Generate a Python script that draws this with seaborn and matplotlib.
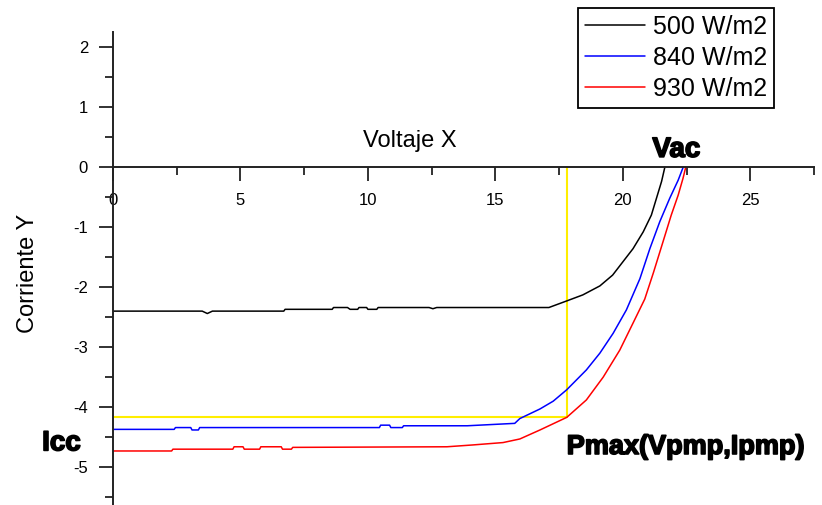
import numpy as np
import pandas as pd
import matplotlib.pyplot as plt
import matplotlib.patheffects as pe
import seaborn as sns

# Curvas I-V para tres niveles de irradiancia
irradiance_labels = ['500 W/m2', '840 W/m2', '930 W/m2']
line_colors = ['#000000', '#0000ff', '#ff0000']

volt_500 = [0, 3.5, 3.7, 3.9, 6.7, 6.75, 8.6, 8.65, 9.2, 9.3, 9.6, 9.65, 9.95, 10.0,
            10.35, 10.4, 12.4, 12.55, 12.7, 17.1, 17.8, 18.43, 19.1, 19.6, 20.0,
            20.4, 20.8, 21.12, 21.32, 21.52, 21.65]
curr_500 = [-2.40, -2.40, -2.44, -2.40, -2.40, -2.37, -2.37, -2.34, -2.34, -2.37, -2.37,
            -2.34, -2.34, -2.37, -2.37, -2.34, -2.34, -2.36, -2.34, -2.34, -2.23, -2.13,
            -1.98, -1.80, -1.58, -1.36, -1.08, -0.80, -0.52, -0.24, 0.0]

volt_840 = [0, 2.4, 2.45, 3.05, 3.1, 3.35, 3.4, 10.45, 10.5, 10.85, 10.9, 11.35, 11.4,
            13.9, 15.76, 15.96, 16.75, 17.27, 17.8, 18.57, 19.1, 19.62, 20.14, 20.67,
            21.06, 21.45, 21.84, 22.17, 22.37]
curr_840 = [-4.37, -4.37, -4.34, -4.34, -4.38, -4.38, -4.34, -4.34, -4.30, -4.30, -4.34,
            -4.34, -4.31, -4.31, -4.27, -4.19, -4.03, -3.90, -3.71, -3.38, -3.10, -2.77,
            -2.38, -1.86, -1.36, -0.91, -0.52, -0.22, 0.0]

volt_930 = [0, 2.3, 2.35, 4.7, 4.75, 5.1, 5.15, 5.75, 5.8, 6.6, 6.65, 7.0, 7.05, 13.1,
            14.1, 15.3, 15.96, 16.75, 17.8, 18.57, 19.23, 19.88, 20.4, 20.86, 21.2,
            21.58, 21.9, 22.17, 22.36, 22.47]
curr_930 = [-4.73, -4.73, -4.70, -4.70, -4.66, -4.66, -4.70, -4.70, -4.66, -4.66, -4.70,
            -4.70, -4.67, -4.66, -4.63, -4.59, -4.53, -4.38, -4.17, -3.88, -3.50, -3.05,
            -2.60, -2.20, -1.76, -1.24, -0.80, -0.47, -0.19, 0.0]

# punto de maxima potencia
v_pmp = 17.8
i_pmp = -4.17

sns.set_style('ticks')
plt.rcParams['font.family'] = ['Liberation Sans', 'DejaVu Sans']
plt.rcParams['axes.unicode_minus'] = False
plt.rcParams['text.color'] = 'black'

frames = []
for lab, v, i in zip(irradiance_labels, [volt_500, volt_840, volt_930],
                     [curr_500, curr_840, curr_930]):
    frames.append(pd.DataFrame({'Voltaje': v, 'Corriente': i, 'Irradiancia': lab}))
df = pd.concat(frames, ignore_index=True)

fig = plt.figure(figsize=(8.22, 5.05), dpi=100)
ax = fig.add_axes([113 / 822, 0, (814 - 113) / 822, (505 - 32) / 505])

sns.lineplot(data=df, x='Voltaje', y='Corriente', hue='Irradiancia',
             hue_order=irradiance_labels,
             palette=dict(zip(irradiance_labels, line_colors)),
             estimator=None, sort=False, legend=False, linewidth=1.1, ax=ax)

# lineas amarillas hasta Pmax
ax.plot([v_pmp, v_pmp], [0, i_pmp], color='#ffee00', lw=1.5, zorder=1)
ax.plot([0, v_pmp], [i_pmp, i_pmp], color='#ffee00', lw=1.5, zorder=1)

ax.set_xlim(0, 27.5)
ax.set_ylim(-5.63, 2.25)
ax.set_xlabel('')
ax.set_ylabel('')

ax.set_xticks(range(0, 26, 5))
ax.set_xticks(np.arange(2.5, 28, 5), minor=True)
ax.set_yticks(range(-5, 3))
ax.set_yticks(np.arange(-5.5, 2.5, 1), minor=True)

ax.spines['top'].set_visible(False)
ax.spines['right'].set_visible(False)
ax.spines['bottom'].set_position(('data', 0))
for s in ['left', 'bottom']:
    ax.spines[s].set_linewidth(1.4)
    ax.spines[s].set_color('#222222')

ax.tick_params(which='major', length=10, width=1.3, labelsize=12, direction='out',
               color='#222222', labelcolor='black')
ax.tick_params(which='minor', length=6, width=1.3, direction='out', color='#222222')
ax.tick_params(axis='x', pad=9)
ax.tick_params(axis='y', pad=8)

leg = ax.legend(ax.lines[:3], irradiance_labels, loc='upper left',
                bbox_to_anchor=(578 / 822, 1 - 8 / 505), bbox_transform=fig.transFigure,
                borderaxespad=0, frameon=True, fancybox=False, edgecolor='black',
                framealpha=1, fontsize=18, handlelength=2.4, handletextpad=0.3,
                borderpad=0.28, labelspacing=0.28)
leg.get_frame().set_linewidth(1.3)

# etiquetas en negrita (mas gruesas, tipo Arial Black)
heavy = [pe.withStroke(linewidth=1.2, foreground='black')]
ax.text(11.65, 0.34, 'Voltaje X', fontsize=17, ha='center', va='baseline')
ax.text(-3.35, -1.77, 'Corriente Y', fontsize=17, rotation=90, ha='center', va='center')
ax.text(22.1, 0.17, 'Vac', fontsize=20, fontweight='bold', ha='center', va='baseline',
        path_effects=heavy)
ax.text(-2.78, -4.72, 'Icc', fontsize=20, fontweight='bold', ha='left', va='baseline',
        path_effects=heavy)
ax.text(17.8, -4.78, 'Pmax(Vpmp,Ipmp)', fontsize=19.5, fontweight='bold',
        ha='left', va='baseline', path_effects=heavy)

plt.savefig('out.png', dpi=100)
